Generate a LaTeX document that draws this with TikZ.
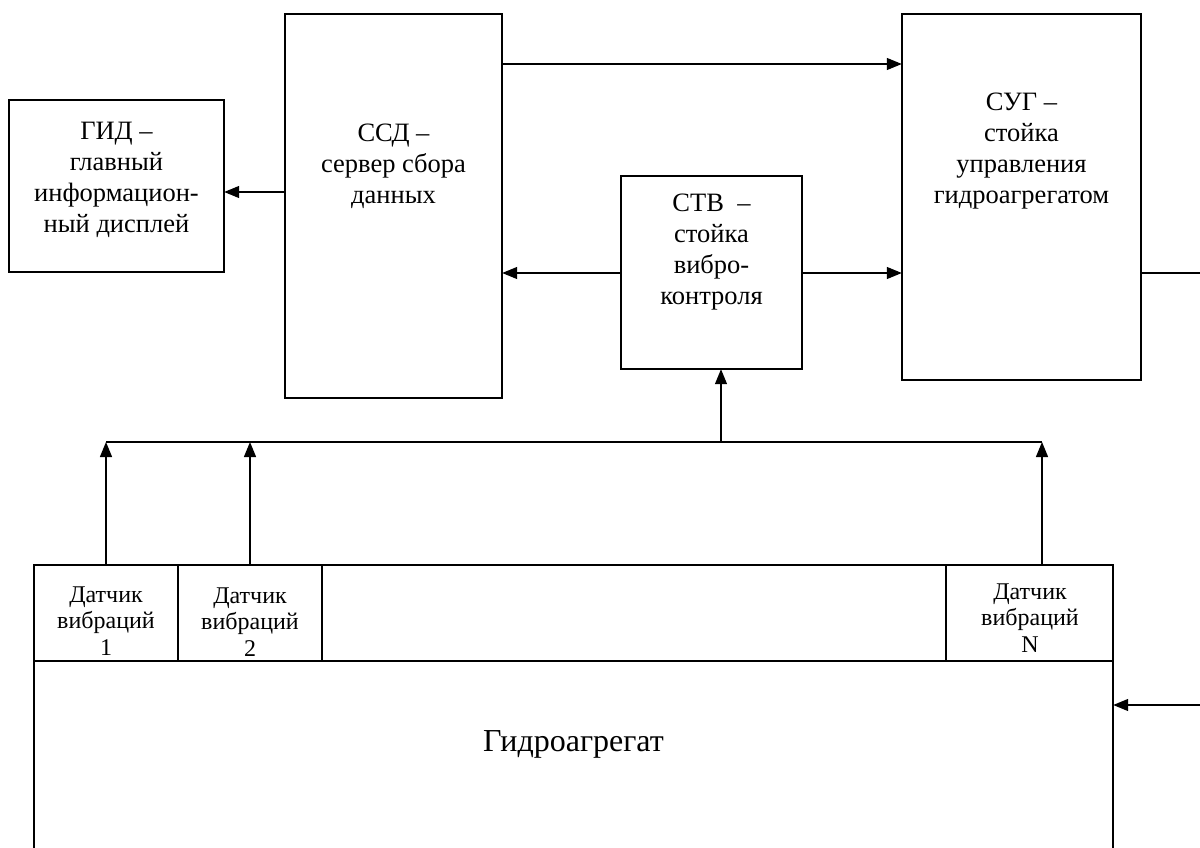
\documentclass[tikz,border=0pt]{standalone}
\usepackage{fontspec}
\setmainfont{Liberation Serif}
\usetikzlibrary{arrows.meta}
\begin{document}
\begin{tikzpicture}[x=1pt,y=-1pt,
  box/.style={draw,line width=1.4pt},
  txt/.style={align=center,inner sep=0pt,font=\fontsize{26.5}{31}\selectfont},
  stxt/.style={align=center,inner sep=0pt,font=\fontsize{24}{26.5}\selectfont},
  ln/.style={line width=1.3pt},
  arr/.style={ln,-{Triangle[length=15pt,width=12pt]}}]
\useasboundingbox (0,0) rectangle (1200,848);
% boxes
\draw[box] (9,100) rectangle (224,272);
\node[inner sep=0pt,minimum width=215pt,minimum height=172pt] (gid) at (116.5,186) {};
\draw[box] (285,14) rectangle (502,398);
\node[inner sep=0pt,minimum width=217pt,minimum height=384pt] (ssd) at (393.5,206) {};
\draw[box] (621,176) rectangle (802,369);
\node[inner sep=0pt,minimum width=181pt,minimum height=193pt] (stv) at (711.5,272.5) {};
\draw[box] (902,14) rectangle (1141,380);
\node[inner sep=0pt,minimum width=239pt,minimum height=366pt] (sug) at (1021.5,197) {};
% texts
\node[txt] (tgid) at (116.5,180) {ГИД –\\главный\\информацион-\\ный дисплей};
\node[txt] (tssd) at (393.5,166) {ССД –\\сервер сбора\\данных};
\node[txt] (tstv) at (711.5,252) {СТВ\ \ –\\стойка\\вибро-\\контроля};
\node[txt] (tsug) at (1021.5,151) {СУГ –\\стойка\\управления\\гидроагрегатом};
% hydro unit
\draw[box] (34,848) -- (34,565) -- (1113,565) -- (1113,848);
\draw[box] (34,661) -- (1113,661);
\draw[box] (178,565) -- (178,661);
\draw[box] (322,565) -- (322,661);
\draw[box] (946,565) -- (946,661);
\node[inner sep=0pt,minimum width=144pt,minimum height=96pt] (s1) at (106,613) {};
\node[inner sep=0pt,minimum width=144pt,minimum height=96pt] (s2) at (250,613) {};
\node[inner sep=0pt,minimum width=167pt,minimum height=96pt] (sn) at (1029.5,613) {};
\node[inner sep=0pt,minimum width=1079pt,minimum height=187pt] (ga) at (573.5,754.5) {};
\begin{scope}
\clip (34,565) rectangle (178,660);
\node[stxt] (ts1) at (106,621) {Датчик\\вибраций\\1};
\end{scope}
\begin{scope}
\clip (178,565) rectangle (322,655);
\node[stxt] (ts2) at (250,622) {Датчик\\вибраций\\2};
\end{scope}
\node[stxt] (tsn) at (1030,618) {Датчик\\вибраций\\N};
\node[inner sep=0pt,font=\fontsize{32}{38}\selectfont,anchor=base] (tga) at (573.5,751) {Гидроагрегат};
% bus
\coordinate (b1) at (106,442);
\coordinate (b2) at (250,442);
\coordinate (bm) at (721,442);
\coordinate (bn) at (1042,442);
\draw[ln] (b1) -- (bn);
\draw[arr] (s1.north) -- (b1);
\draw[arr] (s2.north) -- (b2);
\draw[arr] (sn.north -| bn) -- (bn);
\draw[arr] (bm) -- (bm |- stv.south);
% connectors
\draw[arr] (ssd.west |- 0,192) -- (gid.east |- 0,192);
\draw[arr] (ssd.east |- 0,64) -- (sug.west |- 0,64);
\draw[arr] (stv.west |- 0,273) -- (ssd.east |- 0,273);
\draw[arr] (stv.east |- 0,273) -- (sug.west |- 0,273);
\coordinate (r1) at (1200,273);
\coordinate (r2) at (1200,705);
\draw[ln] (sug.east |- r1) -- (r1);
\draw[arr] (r2) -- (ga.east |- r2);
\end{tikzpicture}
\end{document}
